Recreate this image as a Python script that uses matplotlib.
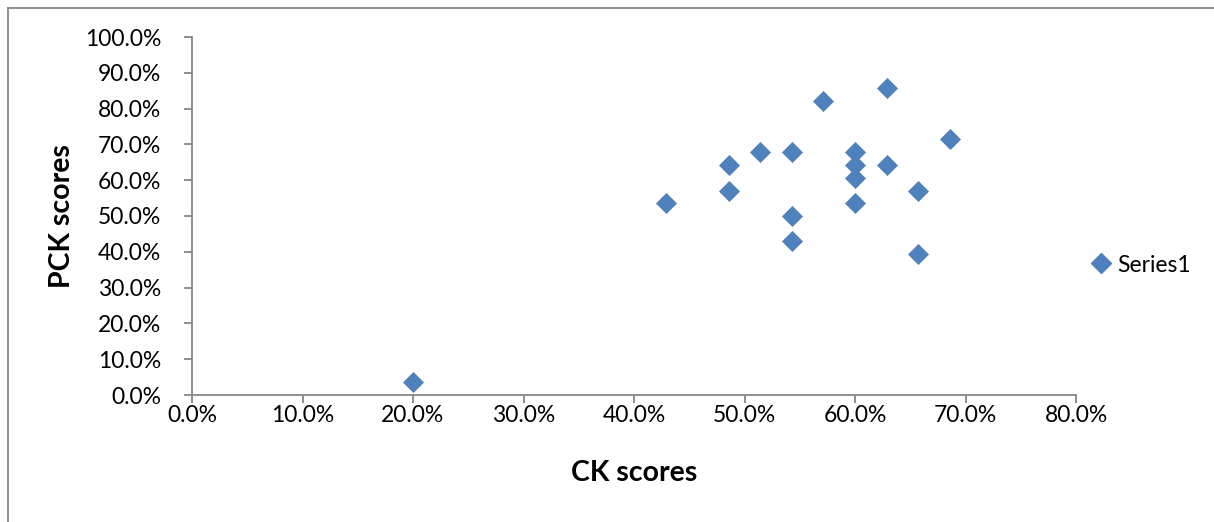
import matplotlib
matplotlib.use("Agg")
import matplotlib.pyplot as plt
from matplotlib.ticker import PercentFormatter, MultipleLocator
from matplotlib.lines import Line2D

ck_scores = [0.200, 0.429, 0.486, 0.486, 0.514, 0.543, 0.543, 0.543, 0.571,
             0.600, 0.600, 0.600, 0.600, 0.629, 0.629, 0.657, 0.657, 0.686]
pck_scores = [0.036, 0.536, 0.643, 0.571, 0.679, 0.679, 0.500, 0.429, 0.821,
              0.679, 0.643, 0.607, 0.536, 0.857, 0.643, 0.571, 0.393, 0.714]
series_name = "Series1"
x_label = "CK scores"
y_label = "PCK scores"

plt.rcParams['font.family'] = ['Lato', 'DejaVu Sans']

fig = plt.figure(figsize=(12.14, 5.22), dpi=100)
ax = fig.add_axes([192/1214, 1-395/522, (1076-192)/1214, (395-37)/522])

blue = "#4F81BD"
ax.plot(ck_scores, pck_scores, linestyle="none", marker="D", markersize=10.5,
        color=blue, markeredgecolor="#4A7CB8", markeredgewidth=0.5, label=series_name)

ax.set_xlim(0, 0.8)
ax.set_ylim(0, 1.0)
ax.xaxis.set_major_locator(MultipleLocator(0.1))
ax.yaxis.set_major_locator(MultipleLocator(0.1))
ax.xaxis.set_major_formatter(PercentFormatter(1.0, decimals=1))
ax.yaxis.set_major_formatter(PercentFormatter(1.0, decimals=1))

grey = "#868686"
for s in ["top", "right"]:
    ax.spines[s].set_visible(False)
for s in ["left", "bottom"]:
    ax.spines[s].set_color(grey)
    ax.spines[s].set_linewidth(1.3)
ax.tick_params(axis="both", direction="out", length=6, width=1.3, color=grey,
               labelsize=16.5, labelcolor="black")
ax.tick_params(axis="x", pad=1)
ax.tick_params(axis="y", pad=16)

ax.set_xlabel(x_label, fontsize=20.5, fontweight="bold", va="center")
ax.set_ylabel(y_label, fontsize=20.5, fontweight="bold", va="center")
ax.xaxis.set_label_coords(0.5, (395-473)/358)
ax.yaxis.set_label_coords((62-192)/884, 0.5)

handle = Line2D([], [], linestyle="none", marker="D", markersize=10.5, color=blue)
fig.legend([handle], [series_name], loc="center left",
           bbox_to_anchor=(1078/1214, 1-265/522), frameon=False, fontsize=16.5,
           handletextpad=0.1, handlelength=1.2, borderaxespad=0)

# outer chart border (top and left visible)
fig.add_artist(Line2D([8/1214, 1.0], [1-8/522, 1-8/522], color=grey, linewidth=1.3,
                      transform=fig.transFigure))
fig.add_artist(Line2D([8/1214, 8/1214], [0.0, 1-8/522], color=grey, linewidth=1.3,
                      transform=fig.transFigure))

fig.savefig("out.png", dpi=100)
